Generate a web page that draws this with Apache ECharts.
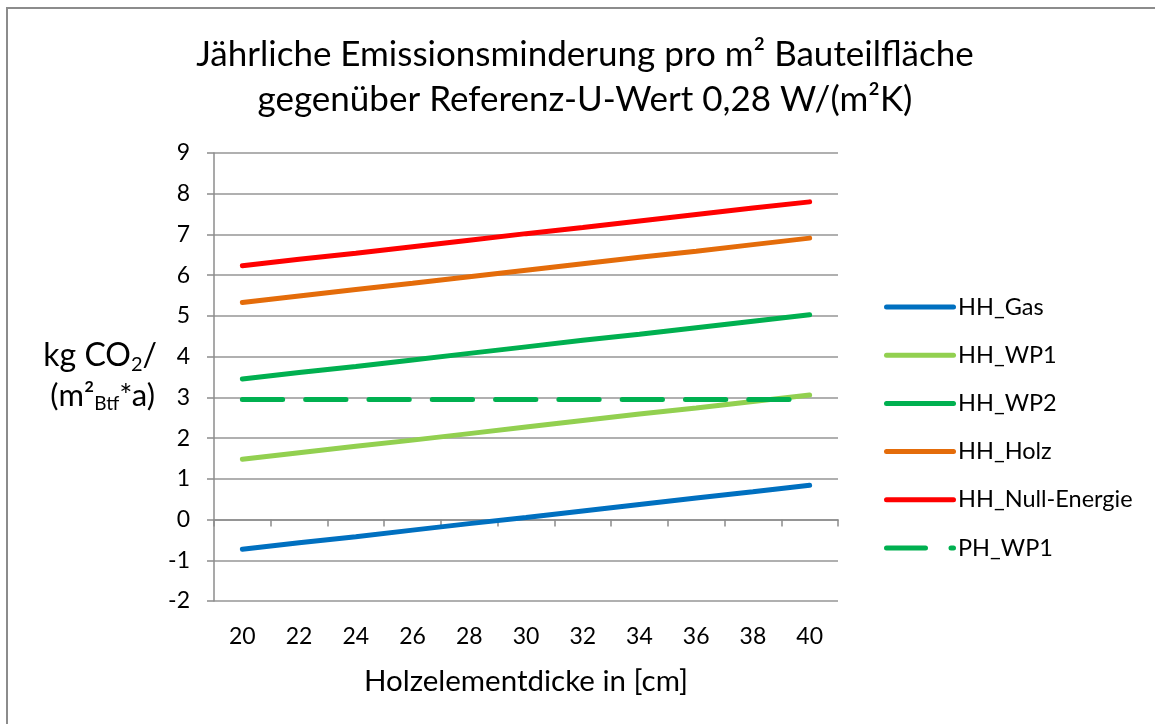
<!DOCTYPE html>
<html>
<head>
<meta charset="utf-8">
<script src="https://cdn.jsdelivr.net/npm/echarts@6/dist/echarts.min.js"></script>
<style>
  html, body { margin: 0; padding: 0; background: #fff; }
  #main { width: 1155px; height: 724px; }
</style>
</head>
<body>
<div id="main"></div>
<script>
// Holzelementdicke in cm
var dicke = ['20', '22', '24', '26', '28', '30', '32', '34', '36', '38', '40'];
// kg CO2 / (m² Btf * a)
var hhGas = [-0.73, -0.57, -0.42, -0.26, -0.10, 0.05, 0.21, 0.37, 0.53, 0.68, 0.84];
var hhWp1 = [1.48, 1.64, 1.80, 1.95, 2.11, 2.27, 2.43, 2.59, 2.74, 2.90, 3.06];
var hhWp2 = [3.45, 3.61, 3.76, 3.92, 4.08, 4.24, 4.40, 4.55, 4.71, 4.87, 5.03];
var hhHolz = [5.33, 5.49, 5.65, 5.80, 5.96, 6.12, 6.28, 6.44, 6.59, 6.75, 6.91];
var hhNull = [6.23, 6.39, 6.54, 6.70, 6.86, 7.02, 7.17, 7.33, 7.49, 7.65, 7.80];
var phWp1 = [2.95, 2.95, 2.95, 2.95, 2.95, 2.95, 2.95, 2.95, 2.95, 2.95, 2.95];
var namen = ['HH_Gas', 'HH_WP1', 'HH_WP2', 'HH_Holz', 'HH_Null-Energie', 'PH_WP1'];

var FONT = 'Lato';
var myChart = echarts.init(document.getElementById('main'));

// legend icons: thick line with round ends, and a dash + dot for the dashed series
var ICON_SOLID = 'path://M2.5,0h67a2.5,2.5 0 0 1 0,5h-67a2.5,2.5 0 0 1 0,-5z';
var ICON_DASH = 'path://M2.5,0h39a2.5,2.5 0 0 1 0,5h-39a2.5,2.5 0 0 1 0,-5z M67,0h2.5a2.5,2.5 0 0 1 0,5h-2.5a2.5,2.5 0 0 1 0,-5z';

function linie(name, data, color, dashed) {
  return {
    name: name,
    type: 'line',
    data: data,
    symbol: 'none',
    color: color,
    lineStyle: {
      width: 5,
      color: color,
      cap: 'round',
      type: dashed ? [40.3, 23] : 'solid'
    },
    emphasis: { disabled: true }
  };
}

var option = {
  animation: false,
  title: {
    text: 'Jährliche Emissionsminderung pro m² Bauteilfläche\ngegenüber Referenz-U-Wert 0,28 W/(m²K)',
    left: 580,
    top: 27,
    textAlign: 'center',
    textStyle: {
      fontFamily: FONT,
      fontWeight: 'normal',
      fontSize: 35,
      lineHeight: 45,
      color: '#000'
    }
  },
  grid: { left: 214, right: 317, top: 153, bottom: 123 },
  legend: {
    orient: 'vertical',
    left: 879,
    top: 290,
    itemWidth: 72,
    itemHeight: 5,
    itemGap: 24.2,
    textStyle: { fontFamily: FONT, fontSize: 23.5, lineHeight: 24, color: '#000', padding: [0, 0, 0, -3] },
    data: namen.map(function (n) {
      return { name: n, icon: n === 'PH_WP1' ? ICON_DASH : ICON_SOLID };
    })
  },
  xAxis: [
    {
      type: 'category',
      data: dicke,
      name: 'Holzelementdicke in [cm]',
      nameLocation: 'middle',
      nameGap: 65,
      nameTextStyle: { fontFamily: FONT, fontSize: 29.5, color: '#000' },
      axisLine: { show: false, onZero: false },
      axisTick: { show: false },
      axisLabel: { fontFamily: FONT, fontSize: 23, color: '#000', margin: 24 }
    },
    {
      type: 'category',
      data: dicke,
      position: 'bottom',
      axisLine: { onZero: true, lineStyle: { color: '#8c8c8c', width: 1.5 } },
      axisTick: { show: true, interval: 0, length: 7, lineStyle: { color: '#8c8c8c', width: 1.5 } },
      axisLabel: { show: false }
    }
  ],
  yAxis: {
    type: 'value',
    min: -2,
    max: 9,
    interval: 1,
    axisLine: { show: true, lineStyle: { color: '#8c8c8c', width: 1.5 } },
    axisTick: { show: true, length: 7, lineStyle: { color: '#8c8c8c', width: 1.5 } },
    splitLine: { lineStyle: { color: '#969696', width: 1.5 } },
    axisLabel: { fontFamily: FONT, fontSize: 23, color: '#000', margin: 24 }
  },
  graphic: [
    {
      type: 'rect',
      shape: { x: 7, y: 8, width: 1160, height: 730 },
      style: { fill: null, stroke: '#8c8c8c', lineWidth: 2 },
      silent: true
    },
    {
      type: 'text',
      right: 998,
      top: 340,
      style: {
        text: '{a|kg CO}{s|2}{a|/}',
        rich: {
          a: { fontFamily: FONT, fontSize: 32, color: '#000' },
          s: { fontFamily: FONT, fontSize: 20, color: '#000', padding: [17, 0, 0, 0] }
        }
      }
    },
    {
      type: 'text',
      right: 1000,
      top: 380,
      style: {
        text: '{a|(m²}{s|Btf}{a|*a)}',
        rich: {
          a: { fontFamily: FONT, fontSize: 31, color: '#000' },
          s: { fontFamily: FONT, fontSize: 19, color: '#000', padding: [17, 0, 0, 0] }
        }
      }
    }
  ],
  series: [
    linie('HH_Gas', hhGas, '#0070C0'),
    linie('HH_WP1', hhWp1, '#92D050'),
    linie('HH_WP2', hhWp2, '#00B050'),
    linie('HH_Holz', hhHolz, '#E46C0A'),
    linie('HH_Null-Energie', hhNull, '#FF0000'),
    linie('PH_WP1', phWp1, '#00B050', true)
  ]
};

myChart.setOption(option);
</script>
</body>
</html>
